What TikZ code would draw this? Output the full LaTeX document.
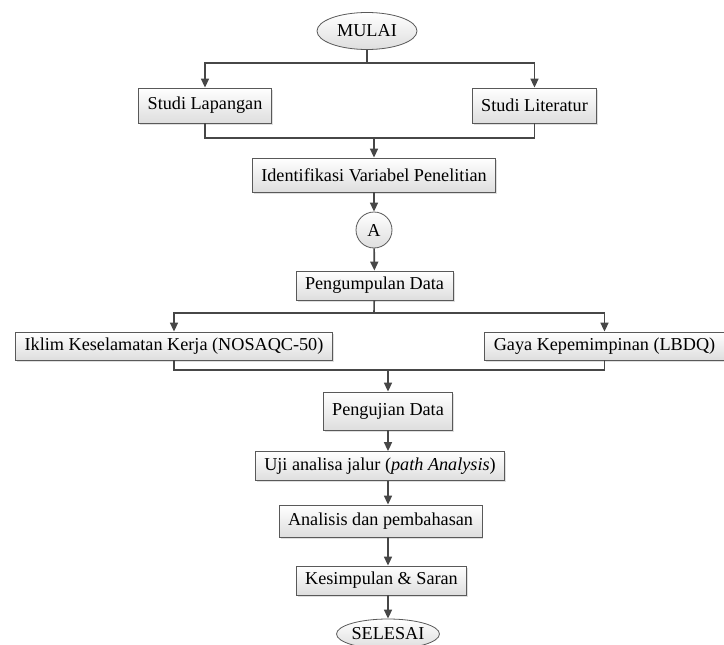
\documentclass[tikz,border=0pt]{standalone}
\usepackage{fontspec}
\setmainfont{Liberation Serif}
\usetikzlibrary{shapes.geometric,shadows,arrows.meta}
\tikzset{
  kotak/.style={rectangle, draw=black!65, line width=0.8pt, top color=white,
    bottom color=black!13, drop shadow={shadow xshift=1.5pt, shadow yshift=-1.5pt, opacity=.25},
    inner xsep=9pt, inner ysep=0pt, minimum height=#1},
  kotak/.default=31pt,
  bulat/.style={ellipse, draw=black!65, line width=0.8pt, top color=white,
    bottom color=black!13, inner sep=0pt},
  garis/.style={draw=black!72, line width=1.6pt},
  panah/.style={garis, -{Triangle[length=9pt,width=8pt]}}
}

\begin{document}
\begin{tikzpicture}[x=1pt, y=-1pt, font=\fontsize{18.2}{20}\selectfont]
\useasboundingbox (0,0) rectangle (724,645);
\node[bulat, minimum width=100pt, minimum height=37pt] (mulai) at (367,31) {MULAI};
\node[kotak=35pt] (lapangan) at (205,105.5) {Studi Lapangan};
\node[kotak=35pt] (literatur) at (534.5,105.5) {Studi Literatur};
\node[kotak=34pt] (identifikasi) at (374,175) {Identifikasi Variabel Penelitian};
\node[circle, draw=black!65, line width=0.8pt, top color=white, bottom color=black!13,
  minimum size=36pt, inner sep=0pt] (A) at (374,230) {A};
\node[kotak=29pt] (kumpul) at (374.5,285.5) {Pengumpulan Data};
\node[kotak=28pt] (iklim) at (174,346) {Iklim Keselamatan Kerja (NOSAQC-50)};
\node[kotak=28pt] (gaya) at (604.5,346) {Gaya Kepemimpinan (LBDQ)};
\node[kotak=38pt] (uji) at (388,411) {Pengujian Data};
\node[kotak=29pt] (jalur) at (380,466) {Uji analisa jalur (\textit{path Analysis})};
\node[kotak=32pt] (bahas) at (380.5,521) {Analisis dan pembahasan};
\node[kotak=29pt] (simpul) at (381.5,580.5) {Kesimpulan \& Saran};
\node[bulat, minimum width=95pt, minimum height=30pt] (selesai) at (388,634) {SELESAI};

\coordinate (c1) at (367,63);
\coordinate (c2) at (374,138);
\coordinate (c3) at (374,313);
\coordinate (c4) at (388,370);

\draw[garis] (mulai) -- (c1);
\draw[panah] (c1) -| (lapangan.north);
\draw[panah] (c1) -| (literatur.north);
\draw[garis] (lapangan.south) |- (c2) -| (literatur.south);
\draw[panah] (c2) -- (identifikasi.north);
\draw[panah] (identifikasi) -- (A);
\draw[panah] (A) -- (kumpul);
\draw[garis] (kumpul) -- (c3);
\draw[panah] (c3) -| (iklim.north);
\draw[panah] (c3) -| (gaya.north);
\draw[garis] (iklim.south) |- (c4) -| (gaya.south);
\draw[panah] (c4) -- (uji.north);
\draw[panah] (uji) -- (uji |- jalur.north);
\draw[panah] (uji |- jalur.south) -- (uji |- bahas.north);
\draw[panah] (uji |- bahas.south) -- (uji |- simpul.north);
\draw[panah] (uji |- simpul.south) -- (selesai);
\end{tikzpicture}
\end{document}
